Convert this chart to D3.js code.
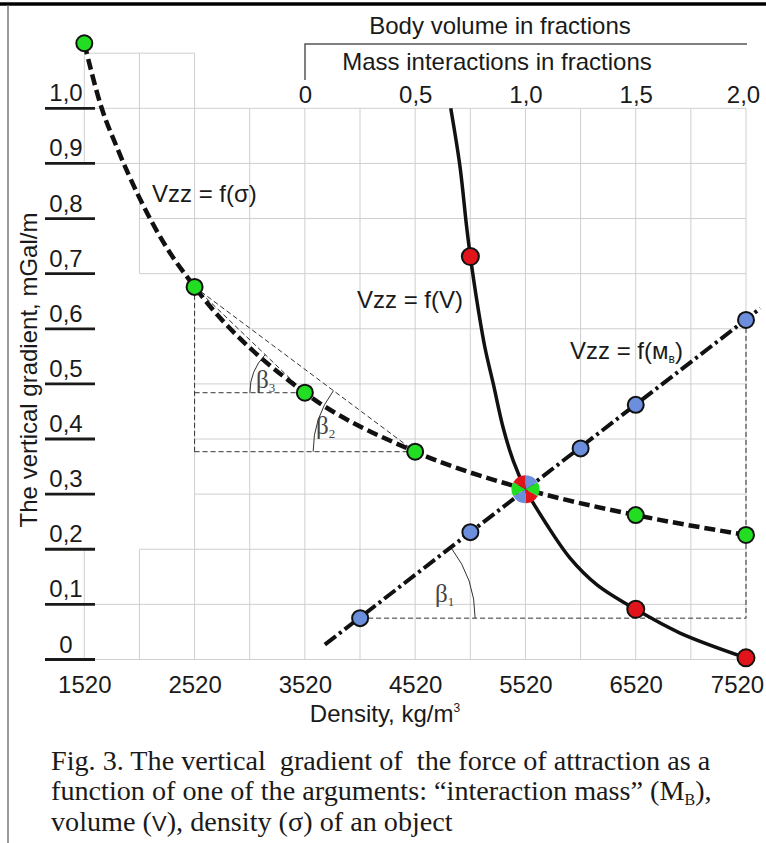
<!DOCTYPE html>
<html>
<head>
<meta charset="utf-8">
<script src="https://cdn.jsdelivr.net/npm/d3@7"></script>
<style>
  body { margin: 0; background: #fff; }
  svg { display: block; font-family: Arial, "Liberation Sans", sans-serif; }
  .caption { font-family: "Times New Roman", "Liberation Serif", serif; }
</style>
</head>
<body>
<svg id="chart" width="766" height="843"></svg>
<script>
// axes
const densityTicks = [1520, 2520, 3520, 4520, 5520, 6520, 7520];
const fractionTicks = [0, 0.5, 1.0, 1.5, 2.0];
const fractionLabels = ["0", "0,5", "1,0", "1,5", "2,0"];
const vzzTicks = [0, 0.1, 0.2, 0.3, 0.4, 0.5, 0.6, 0.7, 0.8, 0.9, 1.0];
const vzzLabels = ["0", "0,1", "0,2", "0,3", "0,4", "0,5", "0,6", "0,7", "0,8", "0,9", "1,0"];

// Vzz = f(sigma) - green points
const sigmaDensity = [1520, 2520, 3520, 4520, 5520, 6520, 7520];
const sigmaVzz = [1.118, 0.676, 0.484, 0.377, 0.309, 0.262, 0.226];
const sigmaTrace = [[1678, 1.0], [1814, 0.93], [2234, 0.758]];

// Vzz = f(M_B) - blue points and the ends of the dash-dot line
const massFraction = [0.25, 0.75, 1.25, 1.5, 2.0];
const massVzz = [0.075, 0.231, 0.383, 0.462, 0.616];
const massLineEnds = [[0.09, 0.027], [2.065, 0.637]];

// Vzz = f(V) - red points and the traced curve
const volumeFraction = [0.75, 1.5, 2.0];
const volumeVzz = [0.731, 0.091, 0.003];
const volumeCurve = [
  [0.661, 1.0], [0.703, 0.894], [0.733, 0.785], [0.75, 0.731], [0.779, 0.652],
  [0.816, 0.566], [0.854, 0.5], [0.899, 0.42], [0.945, 0.36], [1.0, 0.309],
  [1.096, 0.245], [1.202, 0.184], [1.323, 0.136], [1.5, 0.091], [1.701, 0.048], [2.0, 0.003]
];

// the common point of the three curves
const commonPoint = { fraction: 1.0, vzz: 0.309 };
const commonColors = ["#6b8fdc", "#22dd22", "#e0141a", "#6b8fdc", "#22dd22", "#e0141a"];

// grid pieces (the original grid is partly cut away on the left)
const gridRows = [
  { v: 1.1, from: 1520, to: 2520 },
  { v: 1.0, from: 1520, to: 7520 }, { v: 0.9, from: 1520, to: 7520 },
  { v: 0.8, from: 2020, to: 7520 }, { v: 0.7, from: 2020, to: 7520 },
  { v: 0.6, from: 2520, to: 7520 }, { v: 0.5, from: 2520, to: 7520 },
  { v: 0.4, from: 2520, to: 7520 }, { v: 0.3, from: 2520, to: 7520 },
  { v: 0.2, from: 2020, to: 7520 }, { v: 0.1, from: 1520, to: 7520 },
  { v: 0, from: 1520, to: 7520 }
];
const gridCols = [
  { d: 1520, segs: [[0.9, 1.1], [0, 0.2]] },
  { d: 2020, segs: [[0.7, 1.1], [0, 0.2]] },
  { d: 2520, segs: [[0, 1.1]] },
  { d: 3020, segs: [[0, 1.0]] }, { d: 3520, segs: [[0, 1.0]] },
  { d: 4020, segs: [[0, 1.0]] }, { d: 4520, segs: [[0, 1.0]] },
  { d: 5020, segs: [[0, 1.0]] }, { d: 5520, segs: [[0, 1.0]] },
  { d: 6020, segs: [[0, 1.0]] }, { d: 6520, segs: [[0, 1.0]] },
  { d: 7020, segs: [[0, 1.0]] }, { d: 7520, segs: [[0, 1.0]] }
];

const svg = d3.select("#chart");

const x = d3.scaleLinear().domain([1520, 7520]).range([84.3, 746]);
const xf = d3.scaleLinear().domain([0, 2]).range([305, 746]);
const y = d3.scaleLinear().domain([0, 1]).range([659.5, 108.3]);

// frame
svg.append("line").attr("x1", 0).attr("x2", 766).attr("y1", 4).attr("y2", 4)
  .attr("stroke", "#000").attr("stroke-width", 3.5);
svg.append("line").attr("x1", 8).attr("x2", 8).attr("y1", 5).attr("y2", 843)
  .attr("stroke", "#777").attr("stroke-width", 1.5);

// grid
const grid = svg.append("g").attr("stroke", "#cfcfcf").attr("stroke-width", 1);
gridRows.forEach(r => {
  grid.append("line").attr("x1", x(r.from)).attr("x2", x(r.to))
    .attr("y1", y(r.v)).attr("y2", y(r.v));
});
gridCols.forEach(c => {
  c.segs.forEach(s => {
    grid.append("line").attr("x1", x(c.d)).attr("x2", x(c.d))
      .attr("y1", y(s[0])).attr("y2", y(s[1]));
  });
});

// y labels with underlines
const yLab = svg.append("g");
vzzTicks.forEach((v, i) => {
  yLab.append("line").attr("x1", 45).attr("x2", 95).attr("y1", y(v)).attr("y2", y(v))
    .attr("stroke", "#1a1a1a").attr("stroke-width", 2.8);
  yLab.append("text").attr("x", 66).attr("y", y(v) - 7)
    .attr("text-anchor", "middle").attr("font-size", 24).attr("fill", "#1a1a1a")
    .text(vzzLabels[i]);
});

svg.append("text")
  .attr("transform", `translate(37,${370}) rotate(-90)`)
  .attr("text-anchor", "middle").attr("font-size", 24).attr("fill", "#1a1a1a")
  .text("The vertical gradient, mGal/m");

// bottom density axis
const xAxis = svg.append("g").attr("transform", `translate(0,${y(0)})`)
  .call(d3.axisBottom(x).tickValues(densityTicks).tickSize(0).tickPadding(16.5).tickFormat(d3.format("d")));
xAxis.select(".domain").remove();
xAxis.selectAll("text").attr("font-size", 24).attr("font-family", "Arial, 'Liberation Sans', sans-serif").attr("fill", "#1a1a1a");
xAxis.selectAll("text").filter(d => d === 7520).attr("dx", -9);

const dens = svg.append("text").attr("x", 385).attr("y", 722).attr("text-anchor", "middle")
  .attr("font-size", 24).attr("fill", "#1a1a1a");
dens.append("tspan").text("Density, kg/m");
dens.append("tspan").attr("font-size", 12).attr("dy", -10).text("3");

// top fraction axis
const topAxis = svg.append("g").attr("transform", `translate(0,${y(1)})`)
  .call(d3.axisTop(xf).tickValues(fractionTicks).tickSize(0).tickPadding(5.5)
    .tickFormat((d, i) => fractionLabels[i]));
topAxis.select(".domain").remove();
topAxis.selectAll("text").attr("font-size", 24).attr("font-family", "Arial, 'Liberation Sans', sans-serif").attr("fill", "#1a1a1a");
topAxis.selectAll("text").filter(d => d === 2).attr("dx", -3);

svg.append("path")
  .attr("d", `M${xf(0)},80 V44 H${xf(2) + 1}`)
  .attr("fill", "none").attr("stroke", "#555").attr("stroke-width", 1.5);
svg.append("text").attr("x", 500).attr("y", 34).attr("text-anchor", "middle")
  .attr("font-size", 24).attr("fill", "#1a1a1a").text("Body volume in fractions");
svg.append("text").attr("x", 497).attr("y", 70).attr("text-anchor", "middle")
  .attr("font-size", 24).attr("fill", "#1a1a1a").text("Mass interactions in fractions");

// helper dashed lines
const helpers = svg.append("g").attr("fill", "none").attr("stroke", "#333")
  .attr("stroke-width", 1).attr("stroke-dasharray", "5,3");
const seg = (x1, y1, x2, y2) => helpers.append("line")
  .attr("x1", x1).attr("y1", y1).attr("x2", x2).attr("y2", y2);
seg(x(sigmaDensity[1]), y(sigmaVzz[1]), x(sigmaDensity[1]), y(sigmaVzz[3]));
seg(x(sigmaDensity[1]), y(sigmaVzz[2]), x(sigmaDensity[2]), y(sigmaVzz[2]));
seg(x(sigmaDensity[1]), y(sigmaVzz[3]), x(sigmaDensity[3]), y(sigmaVzz[3]));
seg(x(sigmaDensity[1]), y(sigmaVzz[1]), x(sigmaDensity[3]), y(sigmaVzz[3]));
seg(x(sigmaDensity[1]), y(sigmaVzz[1]), x(sigmaDensity[2]), y(sigmaVzz[2]));
seg(xf(massFraction[4]), y(massVzz[4]), xf(massFraction[4]), y(massVzz[0]));
seg(xf(massFraction[0]), y(massVzz[0]), xf(massFraction[4]), y(massVzz[0]));

// angle arcs
function angleArc(cx, cy, r, a0, a1, ccw) {
  const p = d3.path();
  p.moveTo(cx + r * Math.cos(a0), cy + r * Math.sin(a0));
  p.arc(cx, cy, r, a0, a1, ccw);
  svg.append("path").attr("d", p.toString()).attr("fill", "none")
    .attr("stroke", "#333").attr("stroke-width", 1);
}
{
  const cx = xf(massFraction[0]), cy = y(massVzz[0]);
  const th = Math.atan2(y(massVzz[4]) - cy, xf(massFraction[4]) - cx);
  angleArc(cx, cy, 115, 0, th, true);
}
{
  const cx = x(sigmaDensity[3]), cy = y(sigmaVzz[3]);
  const th = Math.atan2(y(sigmaVzz[1]) - cy, x(sigmaDensity[1]) - cx);
  angleArc(cx, cy, 102, th, -Math.PI, true);
}
{
  const cx = x(sigmaDensity[2]), cy = y(sigmaVzz[2]);
  const th = Math.atan2(y(sigmaVzz[1]) - cy, x(sigmaDensity[1]) - cx);
  angleArc(cx, cy, 55, th, -Math.PI, true);
}

function beta(xp, yp, sub) {
  const t = svg.append("text").attr("x", xp).attr("y", yp).attr("fill", "#444")
    .attr("font-family", "'Times New Roman', 'Liberation Serif', serif").attr("font-size", 25);
  t.append("tspan").text("β");
  t.append("tspan").attr("font-size", 13).attr("dy", 4).text(sub);
}
beta(435, 602, "1");
beta(316, 434, "2");
beta(256, 388, "3");

// curves
svg.append("path")
  .datum(volumeCurve)
  .attr("d", d3.line().x(d => xf(d[0])).y(d => y(d[1])).curve(d3.curveCatmullRom))
  .attr("fill", "none").attr("stroke", "#111").attr("stroke-width", 3.5);

svg.append("path")
  .datum(massLineEnds)
  .attr("d", d3.line().x(d => xf(d[0])).y(d => y(d[1])))
  .attr("fill", "none").attr("stroke", "#111").attr("stroke-width", 4)
  .attr("stroke-dasharray", "14,4,3,4");

const sigmaLine = sigmaDensity.map((d, i) => [d, sigmaVzz[i]])
  .concat(sigmaTrace).sort((a, b) => a[0] - b[0]);
svg.append("path")
  .datum(sigmaLine)
  .attr("d", d3.line().x(d => x(d[0])).y(d => y(d[1])).curve(d3.curveMonotoneX))
  .attr("fill", "none").attr("stroke", "#111").attr("stroke-width", 4.5)
  .attr("stroke-dasharray", "11,5");

// points
const pts = svg.append("g").attr("stroke", "#111").attr("stroke-width", 2);
sigmaDensity.forEach((d, i) => {
  if (d === 5520) return;
  pts.append("circle").attr("cx", x(d)).attr("cy", y(sigmaVzz[i])).attr("r", 8).attr("fill", "#22dd22");
});
massFraction.forEach((m, i) => {
  pts.append("circle").attr("cx", xf(m)).attr("cy", y(massVzz[i])).attr("r", 8).attr("fill", "#6b8fdc");
});
volumeFraction.forEach((v, i) => {
  pts.append("circle").attr("cx", xf(v)).attr("cy", y(volumeVzz[i])).attr("r", 8.5).attr("fill", "#e0141a");
});

const pie = d3.pie().sort(null).value(1).startAngle(0);
const arc = d3.arc().innerRadius(0).outerRadius(14);
svg.append("g")
  .attr("transform", `translate(${xf(commonPoint.fraction)},${y(commonPoint.vzz)})`)
  .selectAll("path").data(pie(commonColors)).join("path")
  .attr("d", arc).attr("fill", d => d.data);

// curve labels
svg.append("text").attr("x", 152).attr("y", 202).attr("font-size", 24).attr("fill", "#1a1a1a").text("Vzz = f(σ)");
svg.append("text").attr("x", 357).attr("y", 308).attr("font-size", 24).attr("fill", "#1a1a1a").text("Vzz = f(V)");
const lm = svg.append("text").attr("x", 570).attr("y", 359).attr("font-size", 24).attr("fill", "#1a1a1a");
lm.append("tspan").text("Vzz = f(м");
lm.append("tspan").attr("font-size", 12).attr("dy", 4).text("в");
lm.append("tspan").attr("dy", -4).text(")");

// caption
const cap = svg.append("g").attr("class", "caption").attr("font-size", 28.2).attr("fill", "#1a1a1a");
cap.append("text").attr("x", 51).attr("y", 770)
  .text("Fig. 3. The vertical\u00a0 gradient of\u00a0 the force of attraction as a");
const c2 = cap.append("text").attr("x", 51).attr("y", 800);
c2.append("tspan").text("function of one of the arguments: \u201cinteraction mass\u201d (M");
c2.append("tspan").attr("font-size", 16).attr("dy", 5).text("B");
c2.append("tspan").attr("dy", -5).text("),");
const c3 = cap.append("text").attr("x", 51).attr("y", 831);
c3.append("tspan").text("volume (");
c3.append("tspan").attr("font-family", "Arial, 'Liberation Sans', sans-serif").attr("font-size", 22).text("V");
c3.append("tspan").text("), density (σ) of an object");
</script>
</body>
</html>
